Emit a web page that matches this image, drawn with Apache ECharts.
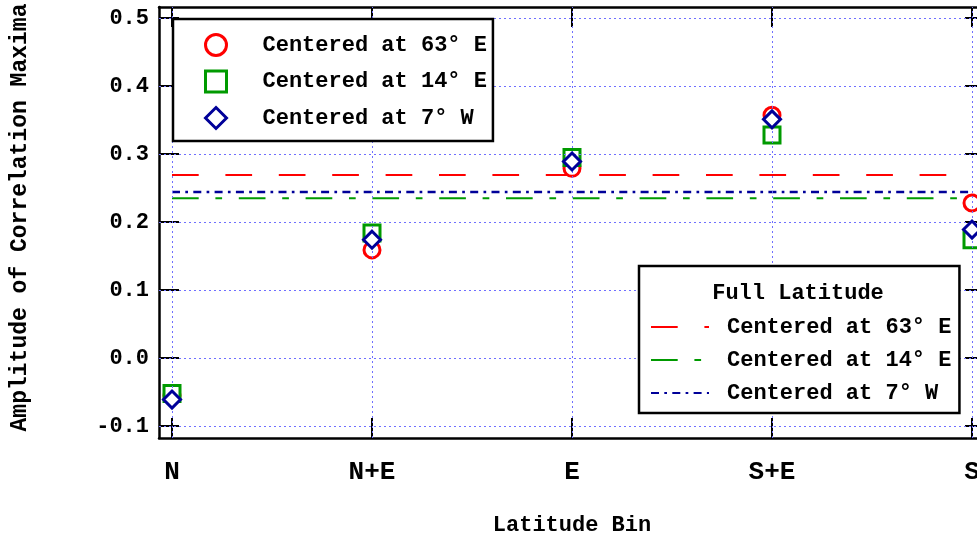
<!DOCTYPE html>
<html>
<head>
<meta charset="utf-8">
<script src="https://cdn.jsdelivr.net/npm/echarts@6/dist/echarts.min.js"></script>
<style>
html,body{margin:0;padding:0;background:#fff;}
#chart{width:977px;height:542px;}
</style>
</head>
<body>
<div id="chart"></div>
<script>
// ---- data ----
const categories = ['N', 'N+E', 'E', 'S+E', 'S'];
const xTicks = [0, 1, 2, 3, 4];
const yTicks = [-0.1, 0.0, 0.1, 0.2, 0.3, 0.4, 0.5];
const seriesNames = ['Centered at 63\u00b0 E', 'Centered at 14\u00b0 E', 'Centered at 7\u00b0 W'];
const binned63E = [-0.055, 0.159, 0.279, 0.357, 0.228];
const binned14E = [-0.052, 0.184, 0.295, 0.328, 0.174];
const binned7W  = [-0.061, 0.174, 0.289, 0.351, 0.189];
const fullLat63E = 0.269;
const fullLat14E = 0.235;
const fullLat7W  = 0.244;
const legendTitle = 'Full Latitude';
const xName = 'Latitude Bin';
const yName = 'Amplitude of Correlation Maxima';

const FONT = 'Liberation Mono';
const FS = 22;
const RED = '#ff0000', GREEN = '#009a00', BLUE = '#000099';

const toPts = arr => arr.map((v, i) => [xTicks[i], v]);
const flatLine = v => [[xTicks[0], v], [xTicks[xTicks.length - 1], v]];
const fullPrefix = 'Full: ';

const chart = echarts.init(document.getElementById('chart'), null, {renderer: 'canvas'});

const X_MIN = -0.065, X_MAX = 4.065;
const Y_MIN = -0.1176, Y_MAX = 0.5162;

const tickStyle = {show: true, inside: true, length: 20, lineStyle: {color: '#000', width: 2}};
const axLine = {show: true, onZero: false, lineStyle: {color: '#000', width: 2.5}};
const gridLineStyle = {color: '#6f6fff', width: 1, type: [2, 3]};
const txt = (size) => ({color: '#000', fontFamily: FONT, fontWeight: 'bold', fontSize: size});

const option = {
  backgroundColor: '#fff',
  animation: false,
  grid: {left: 159, top: 7, width: 826, height: 431, containLabel: false, outerBoundsMode: 'none'},
  xAxis: [{
    type: 'value', position: 'bottom', min: X_MIN, max: X_MAX,
    axisLine: axLine,
    axisTick: Object.assign({customValues: xTicks}, tickStyle),
    axisLabel: Object.assign({customValues: xTicks, margin: 21, formatter: v => categories[Math.round(v)] || ''}, txt(26)),
    splitLine: {show: false},
    name: xName, nameLocation: 'middle', nameGap: 76,
    nameTextStyle: txt(FS)
  }, {
    type: 'value', position: 'top', min: X_MIN, max: X_MAX,
    axisLine: axLine,
    axisTick: Object.assign({customValues: xTicks}, tickStyle),
    axisLabel: {show: false}, splitLine: {show: false}
  }],
  yAxis: [{
    type: 'value', position: 'left', min: Y_MIN, max: Y_MAX,
    axisLine: axLine,
    axisTick: Object.assign({customValues: yTicks}, tickStyle),
    axisLabel: Object.assign({customValues: yTicks, margin: 10, formatter: v => v.toFixed(1)}, txt(FS)),
    splitLine: {show: false},
    name: yName, nameLocation: 'middle', nameGap: 127, nameRotate: 90,
    nameTextStyle: Object.assign({padding: [0, 0, 0, 10]}, txt(23))
  }, {
    type: 'value', position: 'right', min: Y_MIN, max: Y_MAX,
    axisLine: axLine,
    axisTick: Object.assign({customValues: yTicks}, tickStyle),
    axisLabel: {show: false}, splitLine: {show: false}
  }],
  legend: [{
    orient: 'vertical', left: 173, top: 19,
    data: seriesNames,
    backgroundColor: '#fff', borderColor: '#000', borderWidth: 2.5, borderRadius: 0,
    padding: [14, 6, 11, 31],
    itemGap: 12.5, itemWidth: 21, itemHeight: 21,
    itemStyle: {borderWidth: 3},
    textStyle: Object.assign({lineHeight: 22, padding: [0, 0, 0, 31]}, txt(FS)),
    selectedMode: false, z: 10
  }, {
    orient: 'vertical', left: 639, top: 266,
    data: seriesNames.map(n => fullPrefix + n),
    formatter: n => n.slice(fullPrefix.length),
    backgroundColor: '#fff', borderColor: '#000', borderWidth: 2.5, borderRadius: 0,
    padding: [50, 8, 9, 11],
    itemGap: 11, itemWidth: 58, itemHeight: 14,
    itemStyle: {opacity: 0},
    textStyle: Object.assign({lineHeight: 22, padding: [0, 0, 0, 13]}, txt(FS)),
    selectedMode: false, z: 10
  }],
  graphic: [{
    type: 'text', x: 798, y: 293, z: 100,
    style: {text: legendTitle, fill: '#000', font: 'bold ' + FS + 'px "' + FONT + '"', textAlign: 'center', textVerticalAlign: 'middle'}
  }],
  series: [
    {
      name: fullPrefix + seriesNames[0], type: 'line', data: flatLine(fullLat63E), symbol: 'none', showSymbol: false,
      lineStyle: {color: RED, width: 2, type: [26.7, 26.7]}, itemStyle: {color: RED}, z: 2,
      markLine: {
        silent: true, symbol: 'none', label: {show: false}, animation: false,
        lineStyle: gridLineStyle, emphasis: {disabled: true},
        data: xTicks.map(x => ({xAxis: x})).concat(yTicks.map(y => ({yAxis: y})))
      }
    },
    {
      name: fullPrefix + seriesNames[1], type: 'line', data: flatLine(fullLat14E), symbol: 'none', showSymbol: false,
      lineStyle: {color: GREEN, width: 2, type: [26.7, 16.7, 6.7, 16.7]}, itemStyle: {color: GREEN}, z: 2
    },
    {
      name: fullPrefix + seriesNames[2], type: 'line', data: flatLine(fullLat7W), symbol: 'none', showSymbol: false,
      lineStyle: {color: BLUE, width: 2.5, type: [8, 5.3, 2.7, 5.3]}, itemStyle: {color: BLUE}, z: 2
    },
    {
      name: seriesNames[0], type: 'scatter', data: toPts(binned63E), symbol: 'circle', symbolSize: 16,
      itemStyle: {color: '#fff', borderColor: RED, borderWidth: 3, opacity: 1}, z: 3
    },
    {
      name: seriesNames[1], type: 'scatter', data: toPts(binned14E), symbol: 'rect', symbolSize: 16,
      itemStyle: {color: '#fff', borderColor: GREEN, borderWidth: 3, opacity: 1}, z: 4
    },
    {
      name: seriesNames[2], type: 'scatter', data: toPts(binned7W), symbol: 'diamond', symbolSize: 17,
      itemStyle: {color: '#fff', borderColor: BLUE, borderWidth: 3, opacity: 1}, z: 5
    }
  ]
};
chart.setOption(option);
</script>
</body>
</html>
